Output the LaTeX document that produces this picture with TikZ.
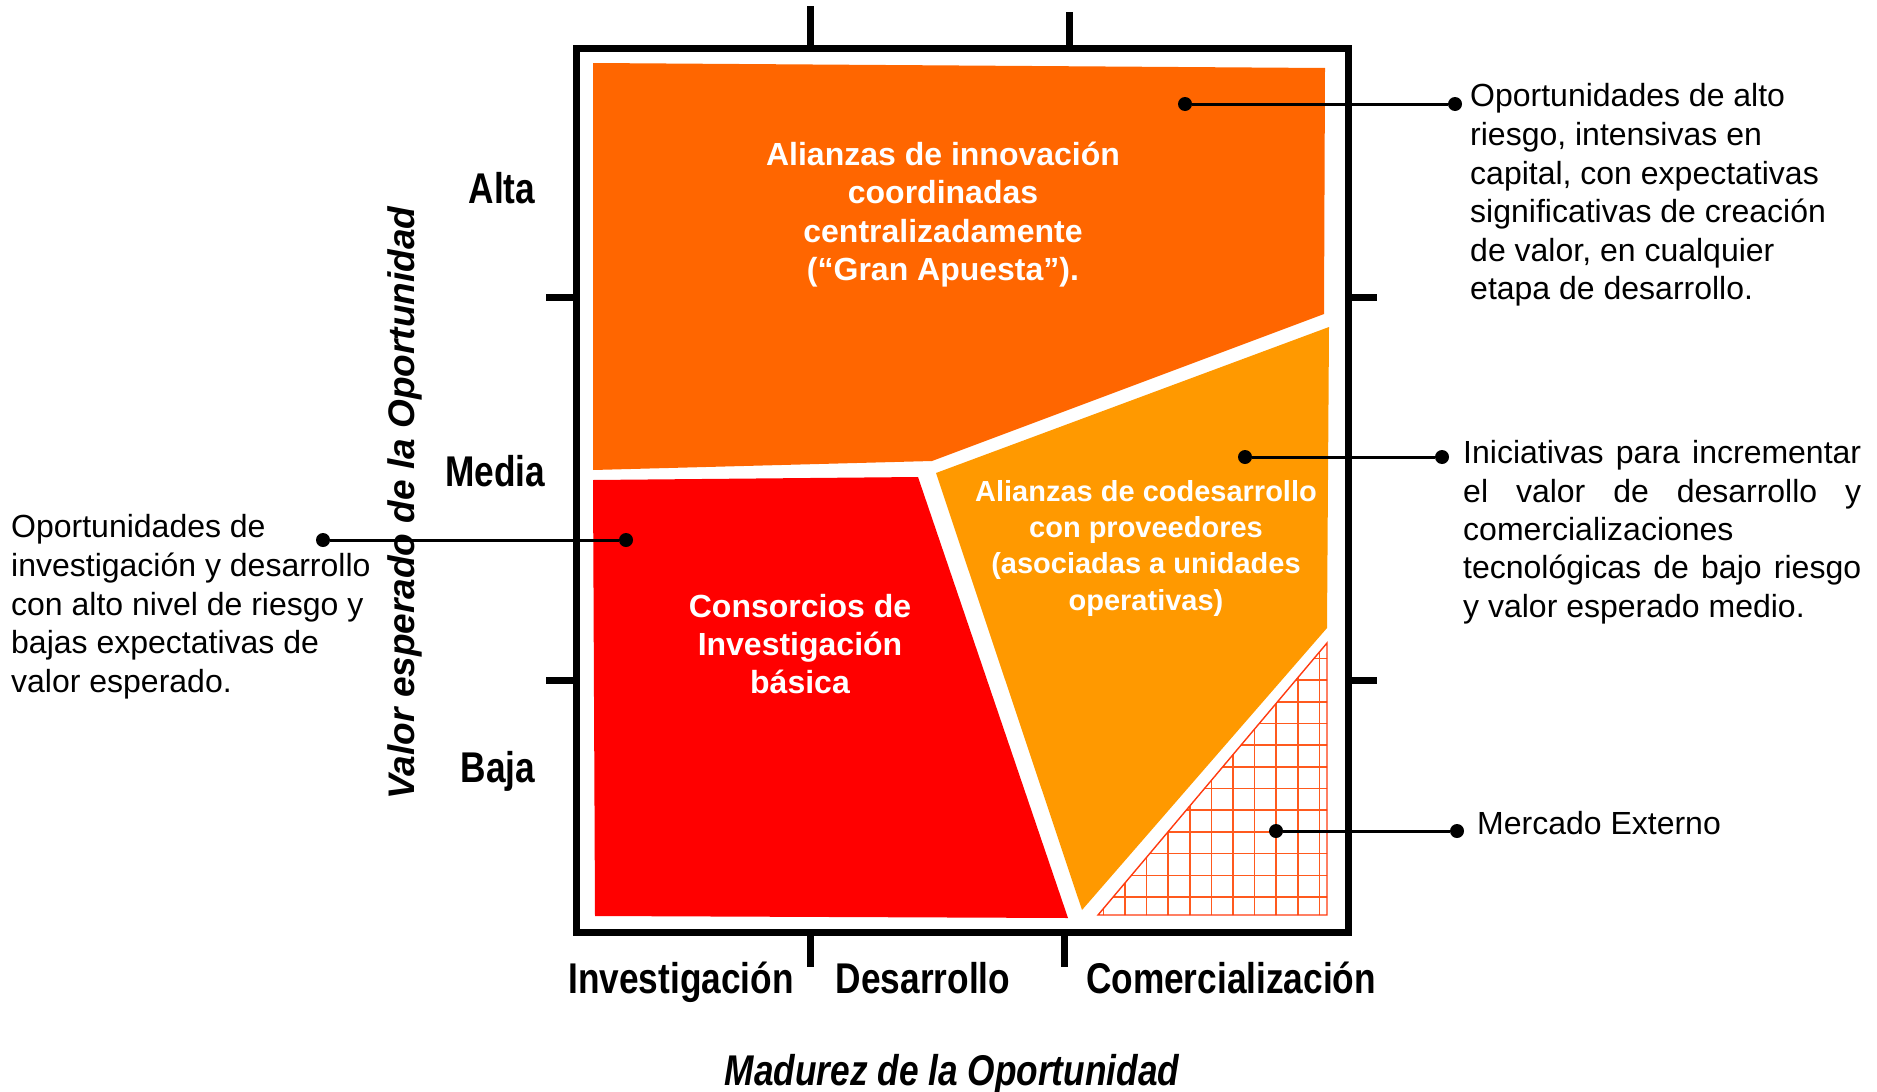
\documentclass[tikz,border=0pt]{standalone}
\usepackage{fontspec}
\setmainfont{Liberation Sans}
\newfontfamily\narrowfont[FakeStretch=0.82]{Liberation Sans}
\definecolor{topor}{HTML}{FF6600}
\definecolor{redreg}{HTML}{FF0000}
\definecolor{lightor}{HTML}{FF9900}
\definecolor{gridor}{HTML}{FF5A1E}
\definecolor{gridedge}{HTML}{FF3A10}
\begin{document}
\begin{tikzpicture}[x=1pt,y=-1pt,
  dot/.style={circle,fill=black,inner sep=0pt,minimum size=14pt},
  conn/.style={line width=3pt},
  frameline/.style={line width=7pt},
  tick/.style={line width=7pt},
  desc/.style={inner sep=0pt,anchor=north west,align=left,font=\fontsize{32}{38.6}\selectfont},
  reglab/.style={text=white,inner sep=0pt,anchor=north,align=center,font=\bfseries\fontsize{32}{38.3}\selectfont},
  axlab/.style={inner sep=0pt,anchor=base,font=\narrowfont\bfseries\fontsize{43}{50}\selectfont},
  gridln/.style={gridor,line width=1.6pt}]
\useasboundingbox (0,0) rectangle (1877,1092);

% regions
\fill[topor] (593,63) -- (1325,68) -- (1324,314) -- (932,461) -- (593,470) -- cycle;
\fill[redreg] (593,480) -- (918,477) -- (1068,918) -- (595,916) -- cycle;
\fill[lightor] (936,473) -- (1329,327) -- (1327,628) -- (1082,910) -- cycle;

% hatched triangle (Mercado Externo)
\begin{scope}
  \clip (1098,915) -- (1327,643) -- (1327,915) -- cycle;
  \foreach \i in {0,...,13} \draw[gridln] (1090,{897-21.7*\i}) -- (1335,{897-21.7*\i});
  \foreach \i in {-2,...,10} \draw[gridln] ({1125+21.6*\i},630) -- ({1125+21.6*\i},920);
\end{scope}
\draw[gridedge,line width=1.4pt] (1098,915) -- (1327,643) -- (1327,915) -- cycle;

% frame and ticks
\draw[frameline] (576,48) rectangle (1348,932);
\draw[tick] (810,6) -- (810,48);
\draw[tick] (1069,12) -- (1069,48);
\draw[tick] (546,297) -- (576,297);
\draw[tick] (546,680) -- (576,680);
\draw[tick] (1348,297) -- (1377,297);
\draw[tick] (1348,680) -- (1377,680);
\draw[tick] (810,932) -- (810,967);
\draw[tick] (1064,932) -- (1064,967);

% region labels
\node[reglab] (r1) at (943,142) {Alianzas de innovación\\coordinadas\\centralizadamente\\(“Gran Apuesta”).};
\node[reglab,font=\bfseries\fontsize{29}{36.3}\selectfont] (r2) at (1146,480) {Alianzas de codesarrollo\\con proveedores\\(asociadas a unidades\\operativas)};
\node[reglab] (r3) at (800,594) {Consorcios de\\Investigación\\básica};

% axis labels
\node[axlab] (alta) at (502,203) {Alta};
\node[axlab] (media) at (495,486) {Media};
\node[axlab] (baja) at (498,782) {Baja};
\node[axlab] (inv) at (681,993) {Investigación};
\node[axlab] (des) at (923,993) {Desarrollo};
\node[axlab] (com) at (1231,993) {Comercialización};
\node[axlab,font=\narrowfont\bfseries\itshape\fontsize{43}{50}\selectfont] (xtitle) at (952,1085) {Madurez de la Oportunidad};
\node[inner sep=0pt,rotate=90,font=\bfseries\itshape\fontsize{37}{44}\selectfont] (ytitle) at (405,503) {Valor esperado de la Oportunidad};

% callouts
\node[dot] (d1a) at (1185,104) {};
\node[dot] (d1b) at (1455,104) {};
\draw[conn] (d1a) -- (d1b);
\node[desc] (t1) at (1470,83.5) {Oportunidades de alto\\riesgo, intensivas en\\capital, con expectativas\\significativas de creación\\de valor, en cualquier\\etapa de desarrollo.};

\node[dot] (d2a) at (1245,457) {};
\node[dot] (d2b) at (1442,457) {};
\draw[conn] (d2a) -- (d2b);
\node[desc,font=\fontsize{32}{38.3}\selectfont] (t2) at (1463,440.5) {\makebox[398pt][s]{Iniciativas para incrementar}\\\makebox[398pt][s]{el valor de desarrollo y}\\comercializaciones\\\makebox[398pt][s]{tecnológicas de bajo riesgo}\\y valor esperado medio.};

\node[dot] (d3a) at (626,540) {};
\node[dot] (d3b) at (323,540) {};
\draw[conn] (d3a) -- (d3b);
\node[desc] (t3) at (11,514.5) {Oportunidades de\\investigación y desarrollo\\con alto nivel de riesgo y\\bajas expectativas de\\valor esperado.};

\node[dot] (d4a) at (1276,831) {};
\node[dot] (d4b) at (1457,831) {};
\draw[conn] (d4a) -- (d4b);
\node[inner sep=0pt,anchor=base west,font=\fontsize{32}{38}\selectfont] (t4) at (1477,834) {Mercado Externo};
\end{tikzpicture}
\end{document}
